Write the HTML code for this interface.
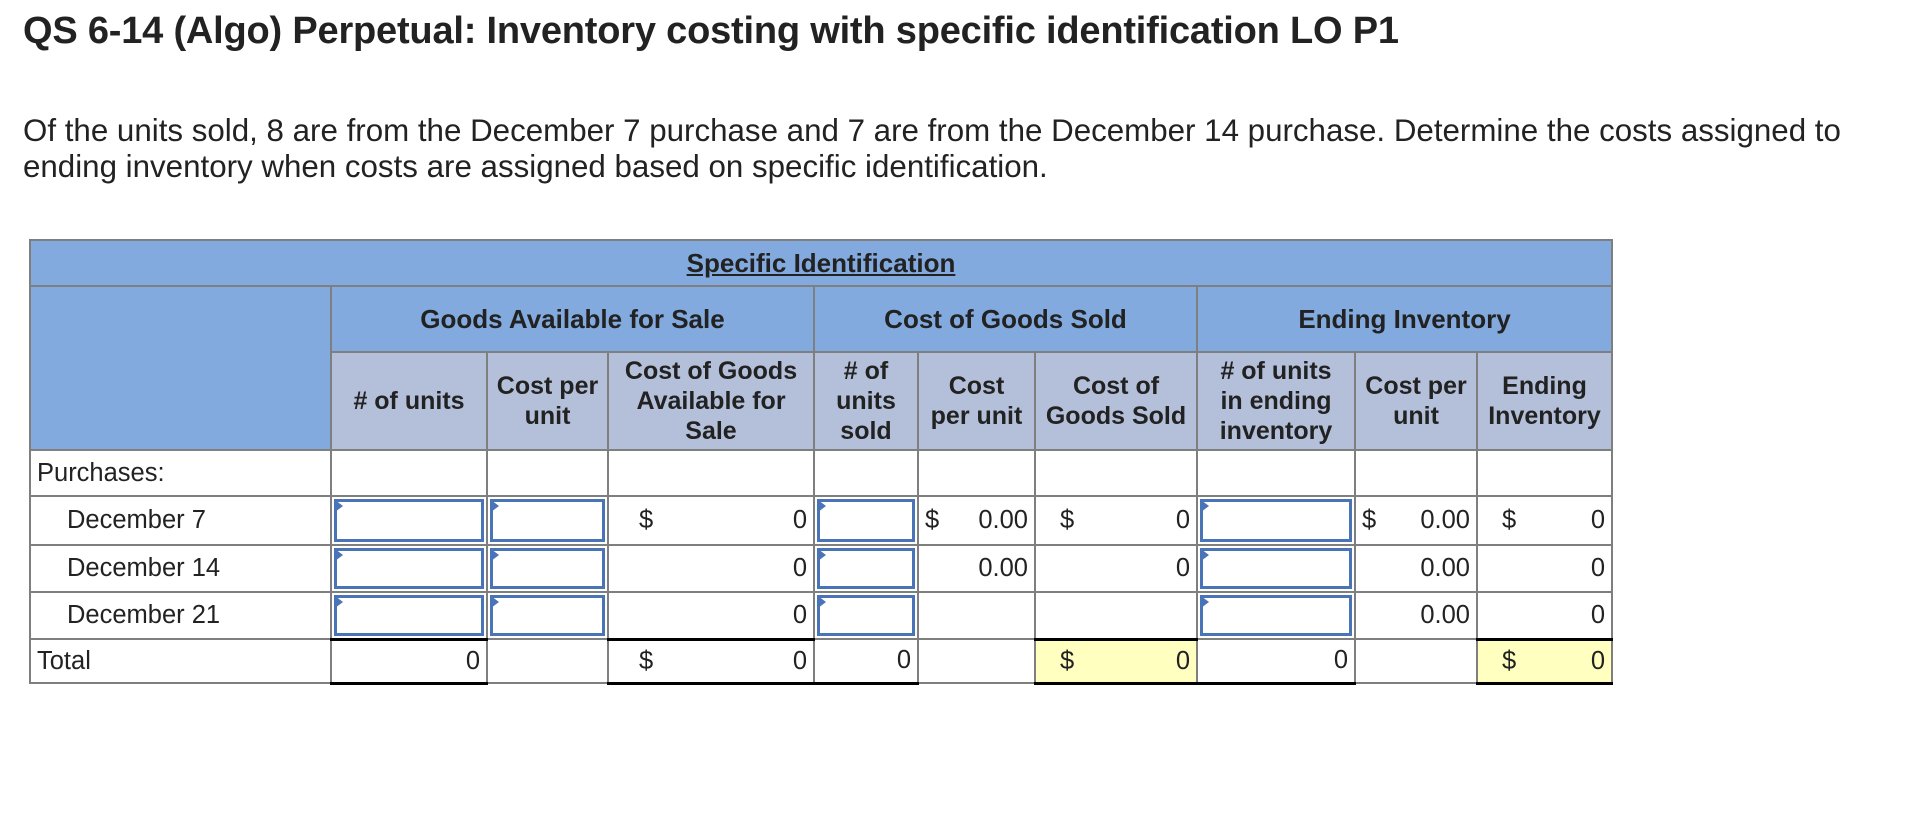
<!DOCTYPE html>
<html><head><meta charset="utf-8"><style>
body{margin:0;width:1916px;height:822px;background:#fff;font-family:"Liberation Sans",Arial,sans-serif;color:#222;position:relative;overflow:hidden}
h1{position:absolute;left:23px;top:10px;margin:0;font-size:38px;font-weight:bold;letter-spacing:-0.2px}
p{position:absolute;left:23px;top:113px;margin:0;font-size:31.3px;line-height:36px;width:1880px}
table{position:absolute;left:29px;top:239px;border-collapse:collapse;table-layout:fixed;font-size:25.5px}
td{border:2px solid #7f7f7f;padding:0 6px;box-sizing:border-box;white-space:nowrap;overflow:hidden}
.b{background:#82aadf}
.s{background:#b4c0da;text-align:center;font-weight:bold;line-height:30px;font-size:25px}
.h{text-align:center;font-weight:bold;font-size:26px}
.bl{border-left:2px solid #000}
.r{text-align:right}
.inp{padding:0;position:relative}
.inp div{position:absolute;left:2px;right:2px;top:2px;bottom:2px;border:3px solid #4a74b8;background:#fff}
.inp:before{content:"";position:absolute;z-index:2;left:3px;top:3px;border-left:8px solid #4a74b8;border-top:6px solid transparent;border-bottom:6px solid transparent}
.y{background:#ffffc0}
.d{display:flex;justify-content:space-between}
.bb{border-bottom:3px solid #000}
</style></head><body>
<h1>QS 6-14 (Algo) Perpetual: Inventory costing with specific identification LO P1</h1>
<p>Of the units sold, 8 are from the December 7 purchase and 7 are from the December 14 purchase. Determine the costs assigned to<br>ending inventory when costs are assigned based on specific identification.</p>
<table>
<colgroup><col style="width:301px"><col style="width:156px"><col style="width:121px"><col style="width:206px"><col style="width:104px"><col style="width:117px"><col style="width:162px"><col style="width:158px"><col style="width:122px"><col style="width:135px"></colgroup>
<tr style="height:46px"><td colspan="10" class="b h" style="text-decoration:underline">Specific Identification</td></tr>
<tr style="height:66px"><td rowspan="2" class="b"></td><td colspan="3" class="b h bl">Goods Available for Sale</td><td colspan="3" class="b h bl">Cost of Goods Sold</td><td colspan="3" class="b h bl">Ending Inventory</td></tr>
<tr style="height:98px"><td class="s bl"># of units</td><td class="s">Cost per<br>unit</td><td class="s">Cost of Goods<br>Available for<br>Sale</td><td class="s bl"># of<br>units<br>sold</td><td class="s">Cost<br>per unit</td><td class="s">Cost of<br>Goods Sold</td><td class="s bl"># of units<br>in ending<br>inventory</td><td class="s">Cost per<br>unit</td><td class="s">Ending<br>Inventory</td></tr>
<tr style="height:46px"><td>Purchases:</td><td class="bl"></td><td></td><td></td><td class="bl"></td><td></td><td></td><td class="bl"></td><td></td><td></td></tr>
<tr style="height:49px"><td style="padding-left:36px">December 7</td><td class="inp bl"><div></div></td><td class="inp"><div></div></td><td><div class="d"><span style="padding-left:24px">$</span><span>0</span></div></td><td class="inp bl"><div></div></td><td><div class="d"><span>$</span><span>0.00</span></div></td><td><div class="d"><span style="padding-left:18px">$</span><span>0</span></div></td><td class="inp bl"><div></div></td><td><div class="d"><span>$</span><span>0.00</span></div></td><td><div class="d"><span style="padding-left:18px">$</span><span>0</span></div></td></tr>
<tr style="height:47px"><td style="padding-left:36px">December 14</td><td class="inp bl"><div></div></td><td class="inp"><div></div></td><td class="r">0</td><td class="inp bl"><div></div></td><td class="r">0.00</td><td class="r">0</td><td class="inp bl"><div></div></td><td class="r">0.00</td><td class="r">0</td></tr>
<tr style="height:47px"><td style="padding-left:36px">December 21</td><td class="inp bl"><div></div></td><td class="inp"><div></div></td><td class="r">0</td><td class="inp bl"><div></div></td><td></td><td></td><td class="inp bl"><div></div></td><td class="r">0.00</td><td class="r">0</td></tr>
<tr style="height:44px"><td>Total</td><td class="r bl bb" style="border-top:3px solid #000">0</td><td></td><td class="bb" style="border-top:3px solid #000"><div class="d"><span style="padding-left:24px">$</span><span>0</span></div></td><td class="r bl bb">0</td><td></td><td class="y bb" style="border-top:3px solid #000"><div class="d"><span style="padding-left:18px">$</span><span>0</span></div></td><td class="r bl bb">0</td><td></td><td class="y bb" style="border-top:3px solid #000"><div class="d"><span style="padding-left:18px">$</span><span>0</span></div></td></tr>
</table>
</body></html>
